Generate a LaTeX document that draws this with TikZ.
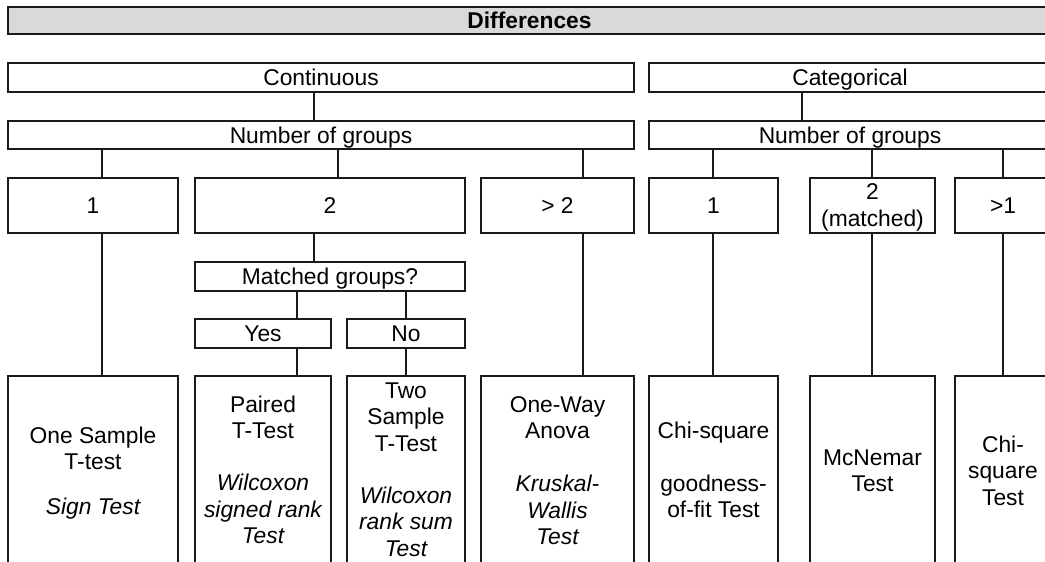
\documentclass[tikz,border=0pt]{standalone}
\usepackage{fontspec}
\setmainfont{Liberation Sans}
\newcommand\dfont{\fontsize{22.8}{26.5}\selectfont}
\definecolor{linec}{HTML}{1A1A1A}
\definecolor{titlegray}{HTML}{D9D9D9}
\begin{document}
\begin{tikzpicture}[x=1pt,y=-1pt,
  box/.style={draw=linec, line width=1.4pt, inner sep=0pt, font=\dfont},
  one/.style={text height=16.3pt, text depth=0pt},
  txt/.style={anchor=north, align=center, inner sep=0pt, font=\dfont},
  conn/.style={draw=linec, line width=1.4pt}]
\useasboundingbox (0,0) rectangle (1045,562);
\clip (0,0) rectangle (1045,562);

% title
\node[box,one,fill=titlegray,minimum width=1043pt,minimum height=27pt,font=\dfont\bfseries] (title) at (529.5,20.5) {Differences};

% level 1
\node[box,one,minimum width=626pt,minimum height=29pt] (cont) at (321,77.5) {Continuous};
\node[box,one,minimum width=402pt,minimum height=29pt] (cat) at (850,77.5) {Categorical};

% level 2
\node[box,one,minimum width=626pt,minimum height=28pt] (nogc) at (321,135) {Number of groups};
\node[box,one,minimum width=402pt,minimum height=28pt] (nogk) at (850,135) {Number of groups};

% level 3
\node[box,one,minimum width=170pt,minimum height=55pt] (c1) at (93,205.5) {1};
\node[box,one,minimum width=270pt,minimum height=55pt] (c2) at (330,205.5) {2};
\node[box,one,minimum width=153pt,minimum height=55pt] (c3) at (557.5,205.5) {> 2};
\node[box,one,minimum width=129pt,minimum height=55pt] (k1) at (713.5,205.5) {1};
\node[box,align=center,minimum width=125pt,minimum height=55pt] (k2) at (872.5,205.5) {\rule{0pt}{20pt}2\\(matched)};
\node[box,one,minimum width=96pt,minimum height=55pt] (k3) at (1003,205.5) {>1};

% matched
\node[box,one,minimum width=270pt,minimum height=29pt] (matched) at (330,276.5) {Matched groups?};
\node[box,one,minimum width=136pt,minimum height=29pt] (yes) at (263,333.5) {Yes};
\node[box,one,minimum width=118pt,minimum height=29pt] (no) at (406,333.5) {No};

% leaves
\node[box,minimum width=170pt,minimum height=214pt] (l1) at (93,483) {};
\node[box,minimum width=136pt,minimum height=214pt] (l2) at (263,483) {};
\node[box,minimum width=118pt,minimum height=214pt] (l3) at (406,483) {};
\node[box,minimum width=153pt,minimum height=214pt] (l4) at (557.5,483) {};
\node[box,minimum width=129pt,minimum height=214pt] (l5) at (713.5,483) {};
\node[box,minimum width=125pt,minimum height=214pt] (l6) at (872.5,483) {};
\node[box,minimum width=96pt,minimum height=214pt] (l7) at (1003,483) {};

\node[txt] (t1) at (93,425) {\rule{0pt}{18pt}One Sample\\T-test\\[18.5pt]\itshape Sign Test};
\node[txt] (t2) at (263,394) {\rule{0pt}{18pt}Paired\\T-Test\\[25.5pt]\itshape Wilcoxon\\\itshape signed rank\\\itshape Test};
\node[txt] (t3) at (406,380) {\rule{0pt}{18pt}Two\\Sample\\T-Test\\[25.5pt]\itshape Wilcoxon\\\itshape rank sum\\\itshape Test};
\node[txt] (t4) at (557.5,394) {\rule{0pt}{18pt}One-Way\\Anova\\[26.5pt]\itshape Kruskal-\\\itshape Wallis\\\itshape Test};
\node[txt] (t5) at (713.5,420) {\rule{0pt}{18pt}Chi-square\\[26.5pt]goodness-\\of-fit Test};
\node[txt] (t6) at (872.5,447) {\rule{0pt}{18pt}McNemar\\Test};
\node[txt] (t7) at (1003,434) {\rule{0pt}{18pt}Chi-\\square\\Test};

% x positions of connectors
\coordinate (v314) at (314,0);
\coordinate (v802) at (802,0);
\coordinate (v102) at (102,0);
\coordinate (v338) at (338,0);
\coordinate (v583) at (583,0);
\coordinate (v297) at (297,0);
\coordinate (v713) at (713,0);
\coordinate (v872) at (872,0);

% connectors
\draw[conn] (cont.south -| v314) -- (nogc.north -| v314);
\draw[conn] (cat.south -| v802) -- (nogk.north -| v802);
\draw[conn] (nogc.south -| v102) -- (c1.north -| v102);
\draw[conn] (nogc.south -| v338) -- (c2.north -| v338);
\draw[conn] (nogc.south -| v583) -- (c3.north -| v583);
\draw[conn] (nogk.south -| v713) -- (k1.north -| v713);
\draw[conn] (nogk.south -| v872) -- (k2.north -| v872);
\draw[conn] (nogk.south -| k3.north) -- (k3.north);
\draw[conn] (c1.south -| v102) -- (l1.north -| v102);
\draw[conn] (c2.south -| v314) -- (matched.north -| v314);
\draw[conn] (matched.south -| v297) -- (yes.north -| v297);
\draw[conn] (matched.south -| no.north) -- (no.north);
\draw[conn] (yes.south -| v297) -- (l2.north -| v297);
\draw[conn] (no.south) -- (l3.north);
\draw[conn] (c3.south -| v583) -- (l4.north -| v583);
\draw[conn] (k1.south -| v713) -- (l5.north -| v713);
\draw[conn] (k2.south -| v872) -- (l6.north -| v872);
\draw[conn] (k3.south) -- (l7.north);
\end{tikzpicture}
\end{document}
